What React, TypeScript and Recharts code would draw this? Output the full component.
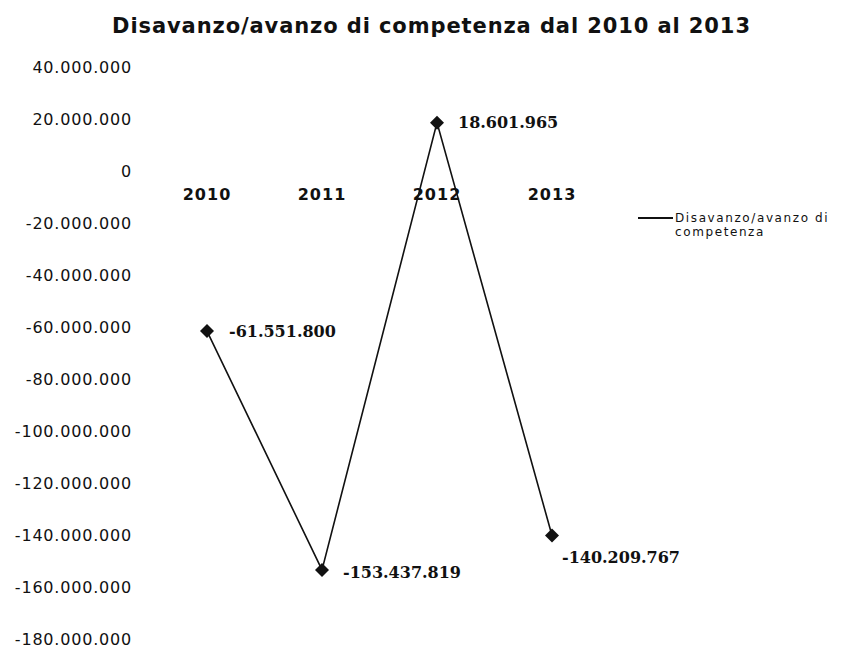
import React from 'react';
import { LineChart, Line, XAxis, YAxis, ReferenceDot, Legend, LabelList } from 'recharts';

const years = ['2010', '2011', '2012', '2013'];
const values = [-61551800, -153437819, 18601965, -140209767];
const yTicks = [40000000, 20000000, 0, -20000000, -40000000, -60000000, -80000000, -100000000, -120000000, -140000000, -160000000, -180000000];
const seriesName = 'Disavanzo/avanzo di competenza';
const chartTitle = 'Disavanzo/avanzo di competenza dal 2010 al 2013';
const labelOffsets = [
  { dx: 22, dy: 0 },
  { dx: 21, dy: 3 },
  { dx: 21, dy: 0 },
  { dx: 10, dy: 22 },
];

const data = years.map((y, i) => ({ year: y, value: values[i] }));

const fmt = (v: number) => {
  const s = Math.abs(Math.round(v)).toString().replace(/\B(?=(\d{3})+(?!\d))/g, '.');
  return (v < 0 ? '-' : '') + s;
};

const YTick = (props: any) => {
  const { x, y, payload } = props;
  return (
    <text x={x} y={y} textAnchor="end" dominantBaseline="central" fontFamily="DejaVu Sans" fontSize={16} letterSpacing={0.8} fill="#111">
      {fmt(payload.value)}
    </text>
  );
};

const Diamond = (props: any) => {
  const { cx, cy } = props;
  if (cx == null || cy == null) return null;
  const r = 7;
  return <path d={`M${cx},${cy - r}L${cx + r},${cy}L${cx},${cy + r}L${cx - r},${cy}Z`} fill="#111" />;
};

const DataLabel = (props: any) => {
  const { x, y, value, index } = props;
  const o = labelOffsets[index] || { dx: 10, dy: 0 };
  return (
    <text x={x + o.dx} y={y + o.dy} dominantBaseline="central" fontFamily="DejaVu Serif" fontWeight="bold" fontSize={16} fill="#111">
      {fmt(value)}
    </text>
  );
};

const LegendContent = () => (
  <div style={{ display: 'flex', alignItems: 'flex-start', fontFamily: 'DejaVu Sans', fontSize: 12, color: '#111', lineHeight: '14px' }}>
    <svg width={35} height={14} style={{ flex: 'none' }}>
      <line x1={0} y1={7} x2={35} y2={7} stroke="#111" strokeWidth={2} />
    </svg>
    <div style={{ marginLeft: 2, width: 168, letterSpacing: 1.6 }}>
      Disavanzo/avanzo di
      <br />
      competenza
    </div>
  </div>
);

export default function App() {
  return (
    <div style={{ position: 'absolute', left: 0, top: 0, width: 843, height: 650, background: '#fff' }}>
      <div style={{ position: 'absolute', left: 0, top: 16, width: 863, textAlign: 'center', fontFamily: 'DejaVu Sans', fontWeight: 'bold', fontSize: 21, lineHeight: '21px', letterSpacing: 0.9, color: '#111', whiteSpace: 'nowrap' }}>
        {chartTitle}
      </div>
      <div style={{ position: 'absolute', left: 0, top: 0 }}>
        <LineChart width={843} height={650} data={data} margin={{ top: 67, right: 0, bottom: 11, left: 0 }}>
          <XAxis dataKey="year" hide padding={{ left: 67, right: 86 }} />
          <YAxis
            width={140}
            domain={[-180000000, 40000000]}
            ticks={yTicks}
            interval={0}
            axisLine={false}
            tickLine={false}
            tick={<YTick />}
          />
          {years.map((y) => (
            <ReferenceDot
              key={y}
              x={y}
              y={0}
              r={0}
              fill="none"
              stroke="none"
              label={{ value: y, position: 'bottom', offset: 18, fontFamily: 'DejaVu Sans', fontWeight: 'bold', fontSize: 16, letterSpacing: 1, fill: '#111' }}
            />
          ))}
          <Legend
            layout="horizontal"
            verticalAlign="middle"
            align="right"
            wrapperStyle={{ left: 638, top: 211, width: 205 }}
            content={<LegendContent />}
          />
          <Line
            dataKey="value"
            name={seriesName}
            stroke="#111"
            strokeWidth={1.6}
            dot={<Diamond />}
            activeDot={false}
            isAnimationActive={false}
          >
            <LabelList dataKey="value" content={<DataLabel />} />
          </Line>
        </LineChart>
      </div>
    </div>
  );
}
